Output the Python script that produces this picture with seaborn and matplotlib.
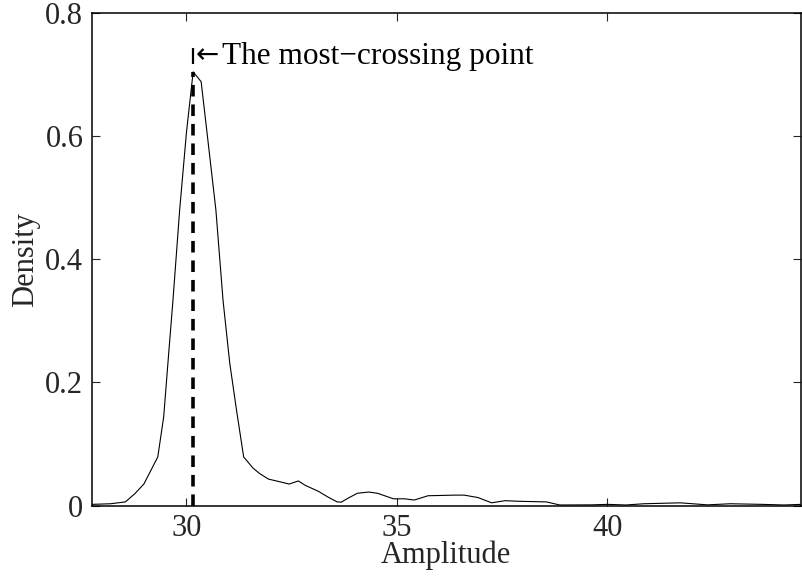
import numpy as np
import pandas as pd
import matplotlib
matplotlib.use("Agg")
import matplotlib.pyplot as plt
import seaborn as sns

# ---- data ----
amplitude = [27.75, 28.2, 28.55, 28.77, 28.99, 29.14, 29.32, 29.46, 29.58, 29.68,
             29.84, 30.0, 30.16, 30.35, 30.49, 30.7, 30.87, 31.03, 31.19, 31.36,
             31.58, 31.74, 31.95, 32.2, 32.44, 32.66, 32.82, 33.14, 33.36, 33.58,
             33.68, 33.84, 34.06, 34.33, 34.54, 34.92, 35.19, 35.41, 35.74, 36.38,
             36.6, 36.93, 37.25, 37.57, 37.9, 38.55, 38.87, 39.63, 40.0, 40.44,
             40.87, 41.73, 42.38, 42.92, 43.68, 44.2, 44.6]
density = [0.002, 0.003, 0.006, 0.019, 0.035, 0.055, 0.079, 0.144, 0.248, 0.333,
           0.48, 0.605, 0.704, 0.688, 0.605, 0.48, 0.333, 0.231, 0.155, 0.079,
           0.061, 0.052, 0.043, 0.039, 0.035, 0.040, 0.033, 0.023, 0.014, 0.006,
           0.0056, 0.012, 0.020, 0.022, 0.020, 0.011, 0.011, 0.009, 0.016, 0.017,
           0.017, 0.013, 0.0045, 0.008, 0.007, 0.006, 0.001, 0.0012, 0.002, 0.001,
           0.003, 0.0045, 0.0012, 0.003, 0.002, 0.001, 0.002]
crossing_point = 30.16
crossing_density = 0.704
arrow_text = "\u2190"
annotation_text = "The most\u2212crossing point"
x_ticks = [30, 35, 40]
y_ticks = [0, 0.2, 0.4, 0.6, 0.8]
y_tick_labels = ["0", "0.2", "0.4", "0.6", "0.8"]

df = pd.DataFrame({"Amplitude": amplitude, "Density": density})

sns.set_style("ticks")
plt.rcParams["font.family"] = ["Liberation Serif", "DejaVu Serif"]

fig = plt.figure(figsize=(8.02, 5.76), dpi=100)
ax = fig.add_axes([91.7 / 802, 1 - 505.6 / 576, (801 - 91.7) / 802, (505.6 - 12.7) / 576])

sns.lineplot(data=df, x="Amplitude", y="Density", ax=ax, color="black",
             linewidth=0.8, estimator=None, sort=False)

# dashed marker of the most-crossing point
ax.vlines(crossing_point, 0, crossing_density, colors="black", linewidth=2.6,
          linestyles=(0, (3.2, 2.2)))
ax.vlines(crossing_point, 0.717, 0.743, colors="black", linewidth=1.6)
ax.text(crossing_point + 0.07, 0.731, arrow_text, fontsize=20,
        va="center", ha="left", color="black", family=["DejaVu Sans"])
ax.text(30.84, 0.729, annotation_text, fontsize=22.5,
        va="center", ha="left", color="black")

ax.set_xlim(27.75, 44.6)
ax.set_ylim(0, 0.8)
ax.set_xticks(x_ticks)
ax.set_xticklabels([str(t) for t in x_ticks])
ax.set_yticks(y_ticks)
ax.set_yticklabels(y_tick_labels)
ax.tick_params(direction="in", length=6, width=0.8, labelsize=22,
               top=True, right=True, pad=6)
for s in ax.spines.values():
    s.set_linewidth(1.1)
    s.set_color("black")
ax.set_xlabel("Amplitude", fontsize=22, labelpad=-2)
ax.set_ylabel("Density", fontsize=22, labelpad=4)

fig.savefig("out.png", dpi=100)
